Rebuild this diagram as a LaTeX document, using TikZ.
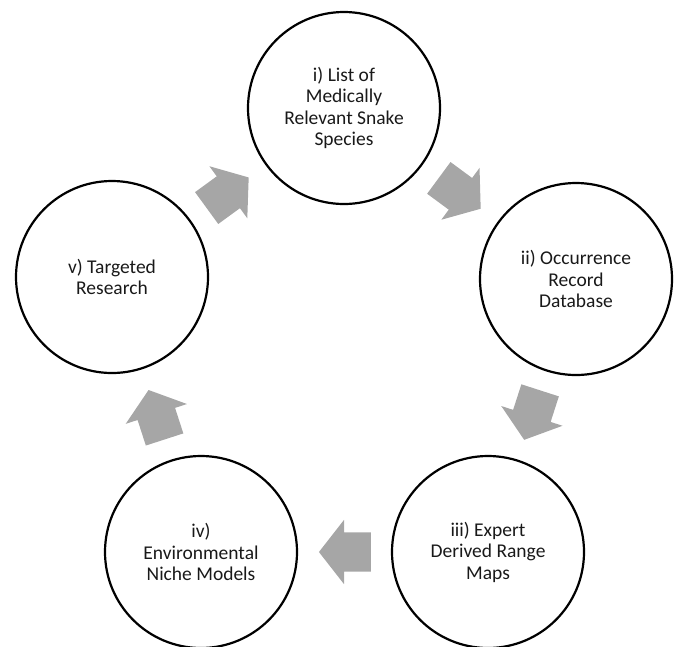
\documentclass[tikz,border=0pt]{standalone}
\usepackage{fontspec}
\setmainfont{Carlito}
\usetikzlibrary{shapes.arrows}
\definecolor{arrowgray}{RGB}{166,166,166}

\begin{document}
\begin{tikzpicture}[x=1pt, y=-1pt,
    stage/.style={circle, draw=black, line width=2.2pt, minimum size=192pt, inner sep=0pt, align=center, text=black!90, font=\fontsize{19.5}{21.5}\selectfont},
    blockarrow/.style={single arrow, fill=arrowgray, draw=none, inner xsep=0pt, inner ysep=19.5pt, single arrow head extend=12.5pt, single arrow tip angle=104, minimum height=52pt, pos=0.59, anchor=tip, sloped, allow upside down}]
    \useasboundingbox (0,0) rectangle (676,646);
    \node[stage] (species) at (344,108) {i) List of\\Medically\\Relevant Snake\\Species};
    \node[stage] (records) at (576,279) {ii) Occurrence\\Record\\Database};
    \node[stage] (rangemaps) at (488,552) {iii) Expert\\Derived Range\\Maps};
    \node[stage] (nichemodels) at (201,552) {iv)\\Environmental\\Niche Models};
    \node[stage] (research) at (112,277) {v) Targeted\\Research};

    \path (species.center) -- node[blockarrow] (arrowA) {} (records.center);
    \path (records.center) -- node[blockarrow] (arrowB) {} (rangemaps.center);
    \path (rangemaps.center) -- node[blockarrow] (arrowC) {} (nichemodels.center);
    \path (nichemodels.center) -- node[blockarrow] (arrowD) {} (research.center);
    \path (research.center) -- node[blockarrow] (arrowE) {} (species.center);
\end{tikzpicture}
\end{document}
